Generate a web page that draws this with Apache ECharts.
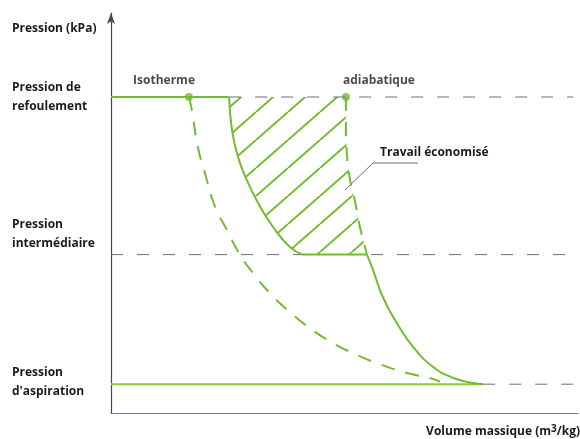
<!DOCTYPE html>
<html>
<head>
<meta charset="utf-8">
<script src="https://cdn.jsdelivr.net/npm/echarts@6/dist/echarts.min.js"></script>
<style>
  html, body { margin: 0; padding: 0; background: #fff; }
  #chart { width: 580px; height: 439px; }
</style>
</head>
<body>
<div id="chart"></div>
<script>
var myChart = echarts.init(document.getElementById('chart'));

// pressure levels (schematic units)
var pRefoulement = 79;
var pIntermediaire = 39.6;
var pAspiration = 7.2;
var xEnd = 99;

// second stage compression (after intercooling), refoulement -> intermediaire
var comp2 = [[25.3, 79], [25.9, 70.8], [27.2, 64], [29.1, 58.2], [31.5, 52.5], [34.7, 46.5], [38.3, 41.5], [41.0, 39.6]];
// single stage adiabatic, upper part (dashed)
var adiabUpper = [[50.3, 79], [50.3, 72.5], [50.5, 65], [51.2, 58.2], [52.2, 53.2], [53.3, 46.5], [54.4, 41.5], [54.8, 39.6]];
// first stage compression, intermediaire -> aspiration (solid)
var adiabLower = [[54.8, 39.6], [56.1, 35.8], [58.2, 29], [61.2, 22.5], [64.7, 16.5], [69.0, 11.5], [73.2, 8.8], [77.5, 7.5], [79.7, 7.2]];
// isotherm (dashed)
var isotherm = [[16.7, 79], [17.3, 75.8], [18.6, 66.5], [20.1, 60], [22.3, 51.5], [24.8, 45.8], [27.6, 39.6], [30.4, 35], [34.0, 30], [38.3, 25.2], [42.6, 21.2], [47.5, 17.5], [52.7, 14.5], [57.6, 12.2], [63.4, 10], [69.0, 8.5], [70.4, 7.8]];
// marked points
var pointNames = ['Isotherme', 'adiabatique'];
var pointValues = [[16.7, 79], [50.3, 79]];

var green = '#72bd2e';
var grey = '#74697c';

function hatchPattern() {
  var w = 32, h = 28;
  var c = document.createElement('canvas');
  c.width = w; c.height = h;
  var ctx = c.getContext('2d');
  ctx.strokeStyle = green;
  ctx.lineWidth = 2;
  [-w, 0, w].forEach(function (dx) {
    ctx.beginPath();
    ctx.moveTo(dx, h);
    ctx.lineTo(dx + w, 0);
    ctx.stroke();
  });
  return c;
}
var hatchImg = hatchPattern();
var hatchOutline = comp2.concat(adiabUpper.slice().reverse());

function seg(data, color, width, dashed, smooth) {
  return {
    type: 'line',
    data: data,
    smooth: smooth || false,
    symbol: 'none',
    silent: true,
    lineStyle: { color: color, width: width, type: dashed ? dashed : 'solid' }
  };
}

var txt = { fill: '#1e1a1c', fontFamily: 'Open Sans', fontWeight: 'bold', fontSize: 12 };
function label(text, x, y, extra) {
  return { type: 'text', x: x, y: y, style: Object.assign({ text: text, verticalAlign: 'middle', lineHeight: 19 }, txt, extra || {}) };
}

var option = {
  animation: false,
  grid: { left: 111, right: 2, top: 13, bottom: 26 },
  xAxis: {
    type: 'value', min: 0, max: 100,
    axisLine: { show: true, lineStyle: { color: '#85798a', width: 1 } },
    axisTick: { show: false }, axisLabel: { show: false }, splitLine: { show: false }
  },
  yAxis: {
    type: 'value', min: 0, max: 100,
    axisLine: { show: true, symbol: ['none', 'arrow'], symbolSize: [6, 11], lineStyle: { color: '#4a4450', width: 1.2 } },
    axisTick: { show: false }, axisLabel: { show: false }, splitLine: { show: false }
  },
  series: [
    seg([[comp2[0][0], pRefoulement], [xEnd, pRefoulement]], grey, 1, [12, 14]),
    seg([[0, pIntermediaire], [xEnd, pIntermediaire]], grey, 1, [12, 14]),
    seg([[adiabLower[adiabLower.length - 1][0], pAspiration], [xEnd, pAspiration]], grey, 1, [12, 14]),
    {
      type: 'custom',
      silent: true,
      data: [[0, 0]],
      renderItem: function (params, api) {
        var pts = hatchOutline.map(function (p) { return api.coord(p); });
        return { type: 'polygon', shape: { points: pts }, style: { fill: { image: hatchImg, repeat: 'repeat' }, stroke: null } };
      }
    },
    seg([[0, pRefoulement], [comp2[0][0], pRefoulement]], green, 2),
    seg([[comp2[comp2.length - 1][0], pIntermediaire], [adiabUpper[adiabUpper.length - 1][0], pIntermediaire]], green, 2),
    seg([[0, pAspiration], [adiabLower[adiabLower.length - 1][0], pAspiration]], '#86cc34', 2),
    seg(comp2, green, 2, null, 0.5),
    seg(adiabUpper, green, 2, [14, 11], 0.5),
    seg(adiabLower, green, 2, null, 0.5),
    seg(isotherm, green, 2, [14, 11], 0.5),
    {
      type: 'scatter',
      silent: true,
      symbolSize: 8,
      itemStyle: { color: green },
      data: pointValues.map(function (v, i) {
        return {
          value: v,
          label: {
            show: true, position: 'top', distance: 6,
            formatter: pointNames[i],
            align: i === 0 ? 'right' : 'left',
            offset: i === 0 ? [6, 0] : [-3, 0],
            color: '#1e1a1c', fontFamily: 'Open Sans', fontWeight: 'bold', fontSize: 12
          }
        };
      })
    }
  ],
  graphic: [
    label('Pression (kPa)', 12, 29),
    label('Pression de\nrefoulement', 12, 97),
    label('Pression\nintermédiaire', 12, 234),
    label("Pression\nd'aspiration", 12, 382),
    label('Travail économisé', 380, 153),
    { type: 'polyline', shape: { points: [[345, 190], [373, 163], [418, 163]] }, style: { stroke: '#6e6478', lineWidth: 1, fill: null } },
    {
      type: 'text', x: 580, y: 432,
      style: {
        text: '{a|Volume massique (m}{s|3}{a|/kg)}',
        align: 'right', verticalAlign: 'middle',
        rich: {
          a: Object.assign({ lineHeight: 16 }, txt),
          s: { fill: '#1e1a1c', fontFamily: 'Open Sans', fontWeight: 'bold', fontSize: 10, verticalAlign: 'top', lineHeight: 10 }
        }
      }
    }
  ]
};

myChart.setOption(option);

window.addEventListener('resize', function () {
  myChart.resize();
});
</script>
</body>
</html>
